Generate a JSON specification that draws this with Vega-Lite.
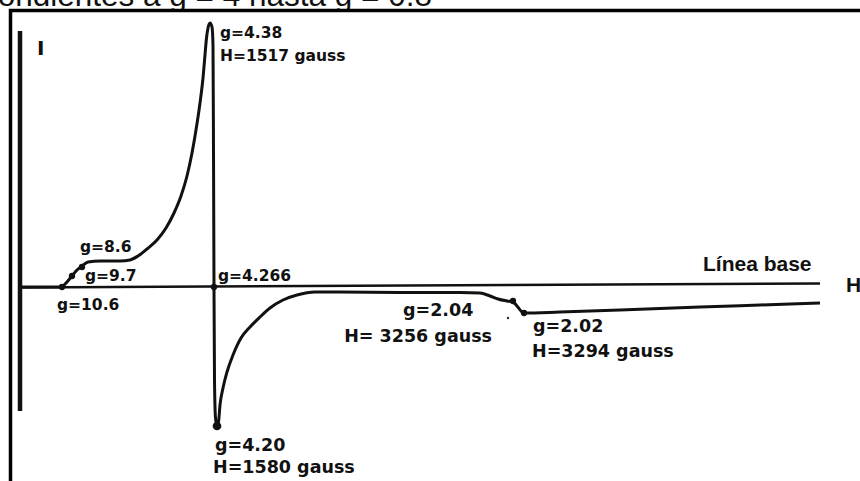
{
  "$schema": "https://vega.github.io/schema/vega-lite/v6.json",
  "width": 860,
  "height": 481,
  "padding": 0,
  "autosize": {"type": "none"},
  "background": "white",
  "config": {"view": {"stroke": null}},
  "datasets": {
    "heading": [{"h": 432, "i": 281, "label": "correspondientes a g = 4 hasta g = 0.8"}],
    "frame": [{"h": 10.5, "h2": 900, "i": 276.5, "i2": -260}],
    "intensityAxis": [{"h": 20, "i": 256, "i2": -124}],
    "baseline": [{"h": 20, "i": -0.5}, {"h": 820, "i": 3.5}],
    "spectrum": [
      {"h": 20, "i": 0}, {"h": 60, "i": 0}, {"h": 63, "i": 1}, {"h": 67, "i": 5},
      {"h": 72, "i": 11}, {"h": 77, "i": 17}, {"h": 82, "i": 21}, {"h": 88, "i": 25},
      {"h": 100, "i": 26}, {"h": 120, "i": 26}, {"h": 130, "i": 27}, {"h": 138, "i": 31},
      {"h": 147, "i": 38}, {"h": 157, "i": 47}, {"h": 166, "i": 59}, {"h": 174, "i": 74},
      {"h": 181, "i": 91}, {"h": 187, "i": 111}, {"h": 192, "i": 134}, {"h": 196, "i": 157},
      {"h": 200, "i": 184}, {"h": 203, "i": 209}, {"h": 205, "i": 232}, {"h": 206.5, "i": 249},
      {"h": 208, "i": 259}, {"h": 210, "i": 264}, {"h": 212, "i": 260}, {"h": 213, "i": 242},
      {"h": 213.5, "i": 137}, {"h": 214, "i": 0}, {"h": 214.5, "i": -93}, {"h": 215.5, "i": -131},
      {"h": 217, "i": -139}, {"h": 218.5, "i": -135}, {"h": 220, "i": -118}, {"h": 223, "i": -101},
      {"h": 227, "i": -85}, {"h": 233, "i": -68}, {"h": 241, "i": -51}, {"h": 250, "i": -40},
      {"h": 260, "i": -30}, {"h": 270, "i": -21}, {"h": 283, "i": -13}, {"h": 297, "i": -8},
      {"h": 315, "i": -5}, {"h": 340, "i": -5}, {"h": 400, "i": -5.5}, {"h": 460, "i": -5.5},
      {"h": 480, "i": -6}, {"h": 490, "i": -9}, {"h": 498, "i": -12}, {"h": 507, "i": -14},
      {"h": 513, "i": -15}, {"h": 517, "i": -19}, {"h": 521, "i": -24}, {"h": 524, "i": -26},
      {"h": 560, "i": -25}, {"h": 620, "i": -23}, {"h": 700, "i": -20}, {"h": 760, "i": -18},
      {"h": 820, "i": -16}
    ],
    "marked": [
      {"h": 62, "i": 0}, {"h": 72, "i": 11}, {"h": 82, "i": 20}, {"h": 214, "i": 0},
      {"h": 513, "i": -14}, {"h": 524, "i": -26}
    ],
    "trough": [{"h": 217, "i": -139}],
    "speck": [{"h": 508, "i": -31}],
    "labelsSmall": [
      {"h": 220, "i": 249, "label": "g=4.38"},
      {"h": 220, "i": 226, "label": "H=1517 gauss"},
      {"h": 80, "i": 35, "label": "g=8.6"},
      {"h": 85, "i": 6, "label": "g=9.7"},
      {"h": 57, "i": -23, "label": "g=10.6"},
      {"h": 218, "i": 6, "label": "g=4.266"}
    ],
    "labelsLarge": [
      {"h": 403, "i": -29, "label": "g=2.04"},
      {"h": 533, "i": -45, "label": "g=2.02"},
      {"h": 532, "i": -70, "label": "H=3294 gauss"},
      {"h": 215, "i": -164, "label": "g=4.20"},
      {"h": 213, "i": -186, "label": "H=1580 gauss"}
    ],
    "labelsRight": [{"h": 492, "i": -55, "label": "H= 3256 gauss"}],
    "axisTitles": [{"h": 37, "i": 232, "label": "I"}],
    "plainTitles": [{"h": 703, "i": 16, "label": "Línea base"}, {"h": 846, "i": -5, "label": "H"}]
  },
  "encoding": {
    "x": {"field": "h", "type": "quantitative", "scale": {"domain": [0, 860], "nice": false, "zero": false}, "axis": null},
    "y": {"field": "i", "type": "quantitative", "scale": {"domain": [-194, 287], "nice": false, "zero": false}, "axis": null}
  },
  "layer": [
    {
      "data": {"name": "heading"},
      "mark": {"type": "text", "align": "right", "baseline": "alphabetic", "font": "Liberation Sans", "fontSize": 31.5, "color": "#111"},
      "encoding": {"text": {"field": "label"}}
    },
    {
      "data": {"name": "frame"},
      "mark": {"type": "rect", "fill": "white", "stroke": "black", "strokeWidth": 3.5},
      "encoding": {"x2": {"field": "h2"}, "y2": {"field": "i2"}}
    },
    {
      "data": {"name": "intensityAxis"},
      "mark": {"type": "rule", "color": "#111", "strokeWidth": 4.5},
      "encoding": {"y2": {"field": "i2"}}
    },
    {
      "data": {"name": "baseline"},
      "mark": {"type": "line", "color": "#111", "strokeWidth": 2.5},
      "encoding": {}
    },
    {
      "data": {"name": "spectrum"},
      "mark": {"type": "line", "color": "#111", "strokeWidth": 3, "interpolate": "monotone", "strokeJoin": "round"},
      "encoding": {}
    },
    {
      "data": {"name": "marked"},
      "mark": {"type": "circle", "color": "#111", "size": 40, "opacity": 1},
      "encoding": {}
    },
    {
      "data": {"name": "trough"},
      "mark": {"type": "circle", "color": "#111", "size": 75, "opacity": 1},
      "encoding": {}
    },
    {
      "data": {"name": "speck"},
      "mark": {"type": "circle", "color": "#333", "size": 6, "opacity": 1},
      "encoding": {}
    },
    {
      "data": {"name": "labelsSmall"},
      "mark": {"type": "text", "align": "left", "baseline": "alphabetic", "font": "DejaVu Sans", "fontWeight": "bold", "fontSize": 15.5, "color": "#111"},
      "encoding": {"text": {"field": "label"}}
    },
    {
      "data": {"name": "labelsLarge"},
      "mark": {"type": "text", "align": "left", "baseline": "alphabetic", "font": "DejaVu Sans", "fontWeight": "bold", "fontSize": 17.5, "color": "#111"},
      "encoding": {"text": {"field": "label"}}
    },
    {
      "data": {"name": "labelsRight"},
      "mark": {"type": "text", "align": "right", "baseline": "alphabetic", "font": "DejaVu Sans", "fontWeight": "bold", "fontSize": 17.5, "color": "#111"},
      "encoding": {"text": {"field": "label"}}
    },
    {
      "data": {"name": "axisTitles"},
      "mark": {"type": "text", "align": "left", "baseline": "alphabetic", "font": "DejaVu Sans", "fontWeight": "bold", "fontSize": 20, "color": "#111"},
      "encoding": {"text": {"field": "label"}}
    },
    {
      "data": {"name": "plainTitles"},
      "mark": {"type": "text", "align": "left", "baseline": "alphabetic", "font": "Liberation Sans", "fontWeight": "bold", "fontSize": 21, "color": "#111"},
      "encoding": {"text": {"field": "label"}}
    }
  ]
}
